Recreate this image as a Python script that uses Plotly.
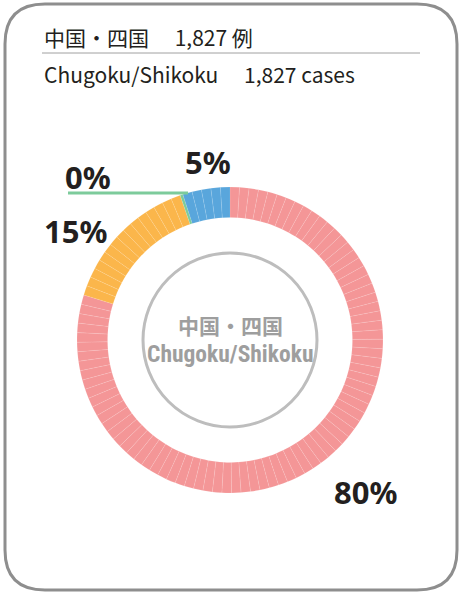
import plotly.graph_objects as go

# ---- data ----
regions_ja = "中国・四国"
regions_en = "Chugoku/Shikoku"
total_cases = "1,827"
categories = ["A", "B", "C", "D"]
shares = [80, 15, 0.3, 5]            # percent of cases, clockwise from top
labels = ["80%", "15%", "0%", "5%"]
colors = ["#F49697", "#FBB64B", "#7DCB9B", "#59A6DC"]

W, H = 462, 595

def px(x):
    return x / W

def py(y):
    return 1 - y / H

# expand each share into 1% pieces (thin radial stripes)
vals, cols = [], []
for s, c in zip(shares, colors):
    n = int(s)
    if n >= 1:
        vals += [s / n] * n
        cols += [c] * n
    else:
        vals.append(s)
        cols.append(c)

cx, cy, r_out = 230, 340, 153
fig = go.Figure(go.Pie(
    values=vals,
    sort=False,
    direction="clockwise",
    rotation=0,
    hole=0.80,
    textinfo="none",
    hoverinfo="skip",
    marker=dict(colors=cols, line=dict(color="rgba(255,255,255,0.2)", width=0.5)),
    domain=dict(x=[px(cx - r_out), px(cx + r_out)], y=[py(cy + r_out), py(cy - r_out)]),
    showlegend=False,
))

shapes = []
# card border (rounded rectangle)
x0, y0, x1, y1, rr = 5, 4, 457, 590, 40
path = (f"M {px(x0+rr)},{py(y0)} L {px(x1-rr)},{py(y0)} "
        f"Q {px(x1)},{py(y0)} {px(x1)},{py(y0+rr)} L {px(x1)},{py(y1-rr)} "
        f"Q {px(x1)},{py(y1)} {px(x1-rr)},{py(y1)} L {px(x0+rr)},{py(y1)} "
        f"Q {px(x0)},{py(y1)} {px(x0)},{py(y1-rr)} L {px(x0)},{py(y0+rr)} "
        f"Q {px(x0)},{py(y0)} {px(x0+rr)},{py(y0)} Z")
shapes.append(dict(type="path", path=path, xref="paper", yref="paper",
                   line=dict(color="#8E8E8E", width=3)))
# header divider
shapes.append(dict(type="line", xref="paper", yref="paper", x0=px(42), x1=px(420),
                   y0=py(53), y1=py(53), line=dict(color="#A0A0A0", width=1)))
# inner grey circle
ri = 87
shapes.append(dict(type="circle", xref="paper", yref="paper",
                   x0=px(cx - ri), x1=px(cx + ri), y0=py(cy + ri), y1=py(cy - ri),
                   line=dict(color="#BDBDBD", width=3)))
# leader line for 0%
shapes.append(dict(type="line", xref="paper", yref="paper", x0=px(68), x1=px(188),
                   y0=py(193), y1=py(193), line=dict(color="#7DCB9B", width=3)))

font_txt = "Noto Sans CJK JP, Noto Sans, sans-serif"
anns = [
    dict(x=px(42), y=py(37), text=f"{regions_ja}　 {total_cases} 例", xanchor="left",
         font=dict(size=21, color="#231F20", family=font_txt)),
    dict(x=px(42), y=py(74), text=f"{regions_en}　 {total_cases} cases", xanchor="left",
         font=dict(size=21, color="#231F20", family=font_txt)),
    dict(x=px(cx), y=py(325), text=f"<b>{regions_ja}</b>",
         font=dict(size=21, color="#9E9E9E", family=font_txt)),
    dict(x=px(cx), y=py(354), text=f"<b>{regions_en}</b>",
         font=dict(size=23.5, color="#9E9E9E",
                   family="Liberation Sans Narrow, Roboto Condensed, Noto Sans")),
]
label_pos = [(365, 492), (75, 231), (88, 177), (208, 162)]
for t, (lx, ly) in zip(labels, label_pos):
    anns.append(dict(x=px(lx), y=py(ly), text=f"<b>{t}</b>",
                     font=dict(size=31, color="#231F20", family="Noto Sans, sans-serif")))
for a in anns:
    a.update(xref="paper", yref="paper", showarrow=False, yanchor="middle")
    a.setdefault("xanchor", "center")

fig.update_layout(width=W, height=H, margin=dict(l=0, r=0, t=0, b=0),
                  paper_bgcolor="white", plot_bgcolor="white",
                  shapes=shapes, annotations=anns)
fig.write_html("out.html", post_script="document.body.style.margin='0';",
               config={"displayModeBar": False})
